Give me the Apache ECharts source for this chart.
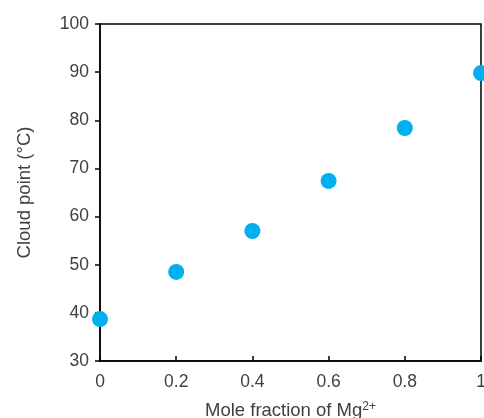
<!DOCTYPE html>
<html>
<head>
<meta charset="utf-8">
<script src="https://cdn.jsdelivr.net/npm/echarts@6/dist/echarts.min.js"></script>
<style>
  html, body { margin: 0; padding: 0; background: #fff; }
  #chart { width: 484px; height: 418px; }
</style>
</head>
<body>
<div id="chart"></div>
<script>
// mole fraction of Mg2+ and measured cloud point
var moleFraction = [0, 0.2, 0.4, 0.6, 0.8, 1];
var cloudPoint = [38.7, 48.5, 57.0, 67.4, 78.4, 89.8];

var chart = echarts.init(document.getElementById('chart'));
var font = 'Liberation Sans, Arial, sans-serif';

var option = {
  animation: false,
  grid: {
    left: 100, right: 3, top: 24, bottom: 57,
    outerBoundsMode: 'none',
    show: true,
    borderColor: '#000',
    borderWidth: 1.5
  },
  xAxis: {
    type: 'value',
    min: 0, max: 1, interval: 0.2,
    name: '{n|Mole fraction of Mg}{s|2+}',
    nameLocation: 'middle',
    nameGap: 40,
    nameTextStyle: {
      rich: {
        n: { fontFamily: font, fontSize: 18.5, color: '#404040' },
        s: { fontFamily: font, fontSize: 12, color: '#404040', verticalAlign: 'top', lineHeight: 10, padding: [0, 0, 9, 0] }
      }
    },
    axisLine: { lineStyle: { color: '#000', width: 1.5 } },
    axisTick: { inside: true, length: 5, lineStyle: { color: '#000', width: 1.5 } },
    axisLabel: { fontFamily: font, fontSize: 17.5, color: '#404040', margin: 12 },
    splitLine: { show: false }
  },
  yAxis: {
    type: 'value',
    min: 30, max: 100, interval: 10,
    name: 'Cloud point (°C)',
    nameLocation: 'middle',
    nameGap: 66,
    nameTextStyle: { fontFamily: font, fontSize: 18.5, color: '#404040' },
    axisLine: { show: true, lineStyle: { color: '#000', width: 1.5 } },
    axisTick: { show: true, length: 5, lineStyle: { color: '#000', width: 1.5 } },
    axisLabel: { fontFamily: font, fontSize: 17.5, color: '#404040', margin: 11 },
    splitLine: { show: false }
  },
  series: [
    {
      type: 'scatter',
      data: moleFraction.map(function (x, i) { return [x, cloudPoint[i]]; }),
      symbolSize: 16,
      itemStyle: { color: '#00B0F0', opacity: 1 },
      clip: false
    }
  ]
};

chart.setOption(option);
</script>
</body>
</html>
